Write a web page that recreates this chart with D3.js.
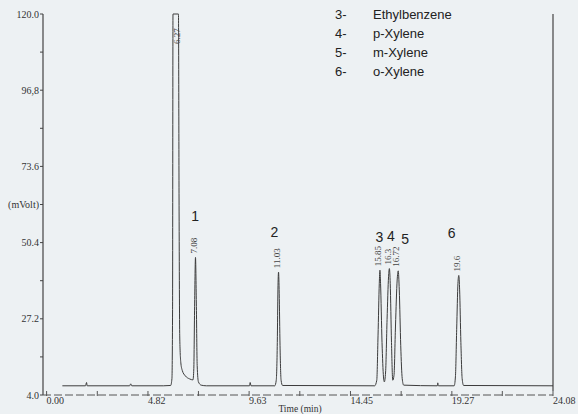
<!DOCTYPE html>
<html><head><meta charset="utf-8">
<script src="https://cdn.jsdelivr.net/npm/d3@7"></script>
<style>
html,body{margin:0;padding:0;background:#edf1f3;}
svg{display:block;}
</style></head>
<body>
<svg id="chart" width="578" height="414"></svg>
<script>
// ---- data ----
const yTicks = [4.0, 15.6, 27.2, 38.8, 50.4, 62.0, 73.6, 85.2, 96.8, 108.4, 120.0];
const yTickLabels = {"4.0":"4.0","27.2":"27.2","50.4":"50.4","62.0":"(mVolt)","73.6":"73.6","96.8":"96,8","120.0":"120.0"};
const xTicks = [0.00, 2.41, 4.82, 7.22, 9.63, 12.04, 14.45, 16.86, 19.27, 21.67, 24.08];
const xTickLabels = {"0":"0.00","4.82":"4.82","9.63":"9.63","14.45":"14.45","19.27":"19.27","24.08":"24.08"};
const peakTimes = [6.27, 7.08, 11.03, 15.85, 16.3, 16.72, 19.6];
const peakHeights = [120, 45.9, 41.4, 42.0, 42.5, 41.8, 40.4];
const peakLabels = ["6.27", "7.08", "11.03", "15.85", "16.3", "16.72", "19.6"];
const peakNumbers = ["1", "2", "3", "4", "5", "6"];
const peakNumberAt = [[7.06, 57.0], [10.83, 52.1], [15.82, 50.7], [16.37, 51.0], [17.05, 50.0], [19.26, 51.7]];
const legendIds = ["3-", "4-", "5-", "6-"];
const legendNames = ["Ethylbenzene", "p-Xylene", "m-Xylene", "o-Xylene"];
const trace = [
 [0.75,6.8],[1.85,6.8],[1.9,7.8],[1.93,6.8],[3.95,6.8],[4.0,7.4],[4.05,6.8],
 [5.55,6.8],[5.90,6.9],[5.96,9],[5.99,30],[6.01,120],[6.27,120],[6.30,60],[6.33,22],[6.38,14],[6.45,11.5],[6.6,9.8],[6.8,8.9],[6.96,8.6],
 [7.00,12],[7.04,32],[7.08,45.9],[7.12,32],[7.16,13],[7.22,8],[7.35,7.0],[7.6,6.8],
 [9.65,6.8],[9.68,7.8],[9.72,6.8],
 [10.85,6.8],[10.92,8.5],[10.97,20],[11.0,36],[11.03,41.4],[11.06,35],[11.10,19],[11.15,8.5],[11.22,6.9],
 [15.6,6.8],[15.70,8.5],[15.76,22],[15.82,38],[15.85,42],[15.88,38],[15.95,20],[16.02,9.5],[16.06,8.0],
 [16.12,11],[16.19,27],[16.26,40],[16.30,42.5],[16.34,38],[16.40,20],[16.46,8.5],
 [16.52,10],[16.59,25],[16.67,39],[16.72,41.8],[16.77,36],[16.84,19],[16.91,9],[16.98,7.0],
 [18.58,6.8],[18.6,7.7],[18.63,6.8],
 [19.38,6.8],[19.44,9.5],[19.50,24],[19.56,38],[19.60,40.4],[19.64,36],[19.70,20],[19.76,9],[19.83,6.9],
 [24.08,6.8]
];

// ---- drawing ----
const svg = d3.select("#chart");
const x = d3.scaleLinear().domain([0, 24.08]).range([46.6, 553]);
const y = d3.scaleLinear().domain([4, 120]).range([395, 14]);
const serif = "'Liberation Serif','Times New Roman',serif";
const sans = "'Liberation Sans',Arial,sans-serif";

// y axis
svg.append("line").attr("x1",43).attr("x2",43).attr("y1",y(120)).attr("y2",y(4))
  .attr("stroke","#444").attr("stroke-width",1.2);
svg.selectAll(".ytick").data(yTicks).enter().append("line")
  .attr("x1",40).attr("x2",43).attr("y1",d=>y(d)).attr("y2",d=>y(d))
  .attr("stroke","#444").attr("stroke-width",1);
svg.selectAll(".ylab").data(yTicks.filter(d=>yTickLabels[d.toFixed(1)])).enter().append("text")
  .attr("x",39).attr("y",d=>y(d)).attr("dy","0.35em").attr("text-anchor","end")
  .attr("font-family",serif).attr("font-size",10).attr("fill","#333")
  .text(d=>yTickLabels[d.toFixed(1)]);

// x axis (dashed)
svg.append("line").attr("x1",43).attr("x2",553).attr("y1",395).attr("y2",395)
  .attr("stroke","#555").attr("stroke-width",1).attr("stroke-dasharray","8,3");
svg.selectAll(".xtick").data(xTicks).enter().append("line")
  .attr("x1",d=>x(d)).attr("x2",d=>x(d)).attr("y1",391).attr("y2",396)
  .attr("stroke","#555").attr("stroke-width",1);
svg.selectAll(".xlab").data(xTicks.filter(d=>xTickLabels[String(d)])).enter().append("text")
  .attr("x",d=>x(d)).attr("y",404).attr("text-anchor","start")
  .attr("font-family",serif).attr("font-size",10).attr("fill","#333")
  .text(d=>xTickLabels[String(d)]);
svg.append("text").attr("x",300).attr("y",412).attr("text-anchor","middle")
  .attr("font-family",serif).attr("font-size",9.5).attr("fill","#333").text("Time (min)");

// right border
svg.append("line").attr("x1",553).attr("x2",553).attr("y1",y(120)).attr("y2",391)
  .attr("stroke","#444").attr("stroke-width",1.2);

// signal trace
const line = d3.line().x(d=>x(d[0])).y(d=>y(Math.min(d[1],120))).curve(d3.curveMonotoneX);
svg.append("path").datum(trace).attr("d",line).attr("fill","none")
  .attr("stroke","#3c3c3c").attr("stroke-width",1);

// retention time labels (vertical)
svg.selectAll(".plab").data(peakTimes).enter().append("text")
  .attr("transform",(d,i)=>{
    const top = peakHeights[i] >= 120 ? y(120)+30 : y(peakHeights[i]) - 4;
    return `translate(${x(d)-2},${top}) rotate(-90)`;
  })
  .attr("dy","0.35em").attr("text-anchor","start")
  .attr("font-family",serif).attr("font-size",9).attr("fill","#444")
  .text((d,i)=>peakLabels[i]);

// peak numbers
svg.selectAll(".pnum").data(peakNumberAt).enter().append("text")
  .attr("x",d=>x(d[0])).attr("y",d=>y(d[1])).attr("text-anchor","middle")
  .attr("font-family",sans).attr("font-size",14).attr("fill","#222")
  .text((d,i)=>peakNumbers[i]);

// legend
const lg = svg.append("g");
legendIds.forEach((id,i)=>{
  lg.append("text").attr("x",335).attr("y",18.5+i*19)
    .attr("font-family",sans).attr("font-size",13).attr("fill","#222").text(id);
  lg.append("text").attr("x",373).attr("y",18.5+i*19)
    .attr("font-family",sans).attr("font-size",13).attr("fill","#222").text(legendNames[i]);
});
</script>
</body></html>
